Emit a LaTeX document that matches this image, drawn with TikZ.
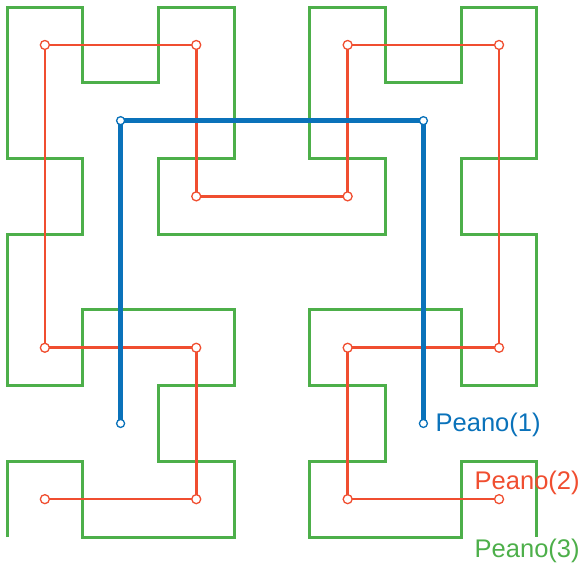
\documentclass[tikz,border=0pt]{standalone}
\usepackage{fontspec}
\setmainfont{Liberation Sans}
\definecolor{hgreen}{RGB}{77,175,74}
\definecolor{hred}{RGB}{240,78,48}
\definecolor{hblue}{RGB}{10,114,186}
\begin{document}
\begin{tikzpicture}[x=1pt,y=-1pt,
  gline/.style={draw=hgreen,line width=3pt,line join=miter},
  rline/.style={draw=hred,line width=2.6pt,line join=miter},
  bline/.style={draw=hblue,line width=5.5pt,line join=miter},
  rdot/.style={circle,draw=hred,fill=white,line width=1.3pt,minimum size=9pt,inner sep=0pt},
  bdot/.style={circle,draw=hblue,fill=white,line width=1.3pt,minimum size=8pt,inner sep=0pt},
  lab/.style={anchor=base west,inner sep=0pt,font=\fontsize{25.5}{30}\selectfont}]
\useasboundingbox (0,0) rectangle (583,566);
% green order-3 curve vertices
\foreach [count=\k from 0] \i/\j in {0/0,0/1,1/1,1/0,2/0,3/0,3/1,2/1,2/2,3/2,3/3,2/3,1/3,1/2,0/2,0/3,
  0/4,1/4,1/5,0/5,0/6,0/7,1/7,1/6,2/6,2/7,3/7,3/6,3/5,2/5,2/4,3/4,
  4/4,5/4,5/5,4/5,4/6,4/7,5/7,5/6,6/6,6/7,7/7,7/6,7/5,6/5,6/4,7/4,
  7/3,7/2,6/2,6/3,5/3,4/3,4/2,5/2,5/1,4/1,4/0,5/0,6/0,6/1,7/1,7/0}
  \coordinate (g\k) at ({7+75.7*\i},{537-75.7*\j});
\path[gline] (g0) \foreach \k in {1,...,63}{ -- (g\k) };
% red order-2 curve
\foreach [count=\k from 0] \i/\j in {0/0,1/0,1/1,0/1,0/2,0/3,1/3,1/2,2/2,2/3,3/3,3/2,3/1,2/1,2/0,3/0}
  \coordinate (r\k) at ({44.85+151.4*\i},{499.15-151.4*\j});
\path[rline] (r0) \foreach \k in {1,...,15}{ -- (r\k) };
\foreach \k in {0,1,2,3,5,6,7,8,9,10,12,13,14,15} \node[rdot] (rd\k) at (r\k) {};
% blue order-1 curve
\foreach [count=\k from 0] \i/\j in {0/0,0/1,1/1,1/0}
  \coordinate (b\k) at ({120.6+302.8*\i},{423.45-302.8*\j});
\path[bline] (b0) -- (b1) -- (b2) -- (b3);
\foreach \k in {0,...,3} \node[bdot] (bd\k) at (b\k) {};
% labels
\node[lab,text=hblue] (l1) at (435.5,431.7) {Peano(1)};
\node[lab,text=hred] (l2) at (474.5,489.3) {Peano(2)};
\node[lab,text=hgreen] (l3) at (474.5,557.7) {Peano(3)};
\end{tikzpicture}
\end{document}
